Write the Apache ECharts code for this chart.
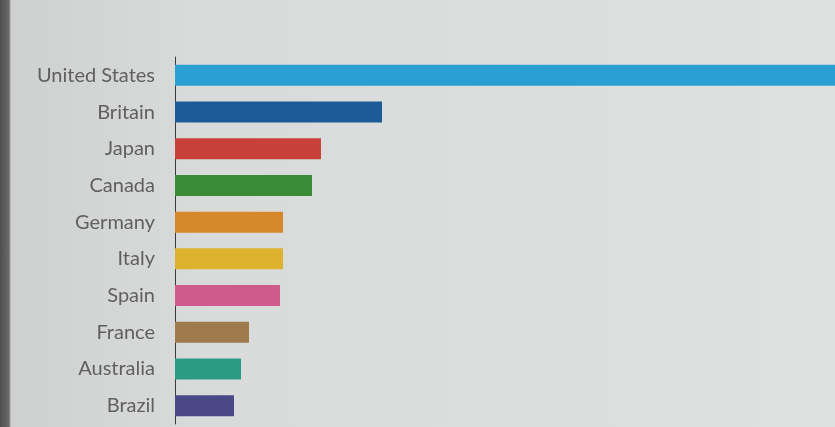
<!DOCTYPE html>
<html><head><meta charset="utf-8">
<script src="https://cdn.jsdelivr.net/npm/echarts@6/dist/echarts.min.js"></script>
<style>
html,body{margin:0;padding:0;width:835px;height:427px;overflow:hidden;background:#dcdedd;}
#wrap{position:absolute;left:0;top:0;width:835px;height:427px;background:linear-gradient(to right,#4e4e4e 0px,#6a6a6a 9px,#cfd1d0 11px,#d9dbda 200px,#dfe1e0 835px);}
#c{position:absolute;left:10px;top:0;width:825px;height:427px;}
</style></head>
<body><div id="wrap"><div id="c"></div></div>
<script>
const categories = ['United States','Britain','Japan','Canada','Germany','Italy','Spain','France','Australia','Brazil'];
const values = [700, 207, 146, 137, 108, 108, 105, 74, 66, 59];
const colors = ['#2a9fd2','#1d5a98','#c8403a','#3a8b37','#d5892a','#dcb22e','#cd5b8b','#9f7a4c','#2c9b83','#4a4886'];
const axisMax = 660;

const chart = echarts.init(document.getElementById('c'), null, {renderer:'canvas'});
chart.setOption({
  backgroundColor: 'transparent',
  animation: false,
  grid: {left: 165, right: 0, top: 57, bottom: 3, containLabel: false},
  xAxis: {type: 'value', min: 0, max: axisMax, show: false},
  yAxis: {
    type: 'category', data: categories, inverse: true,
    axisLine: {show: true, lineStyle: {color: '#3a3a3a', width: 1}},
    axisTick: {show: false},
    axisLabel: {color: '#5f5f5f', fontFamily: 'Lato', fontSize: 20, margin: 20}
  },
  series: [{
    type: 'bar', barWidth: 21, clip: true,
    data: values.map((v, i) => ({value: v, itemStyle: {color: colors[i]}}))
  }]
});
</script></body></html>
